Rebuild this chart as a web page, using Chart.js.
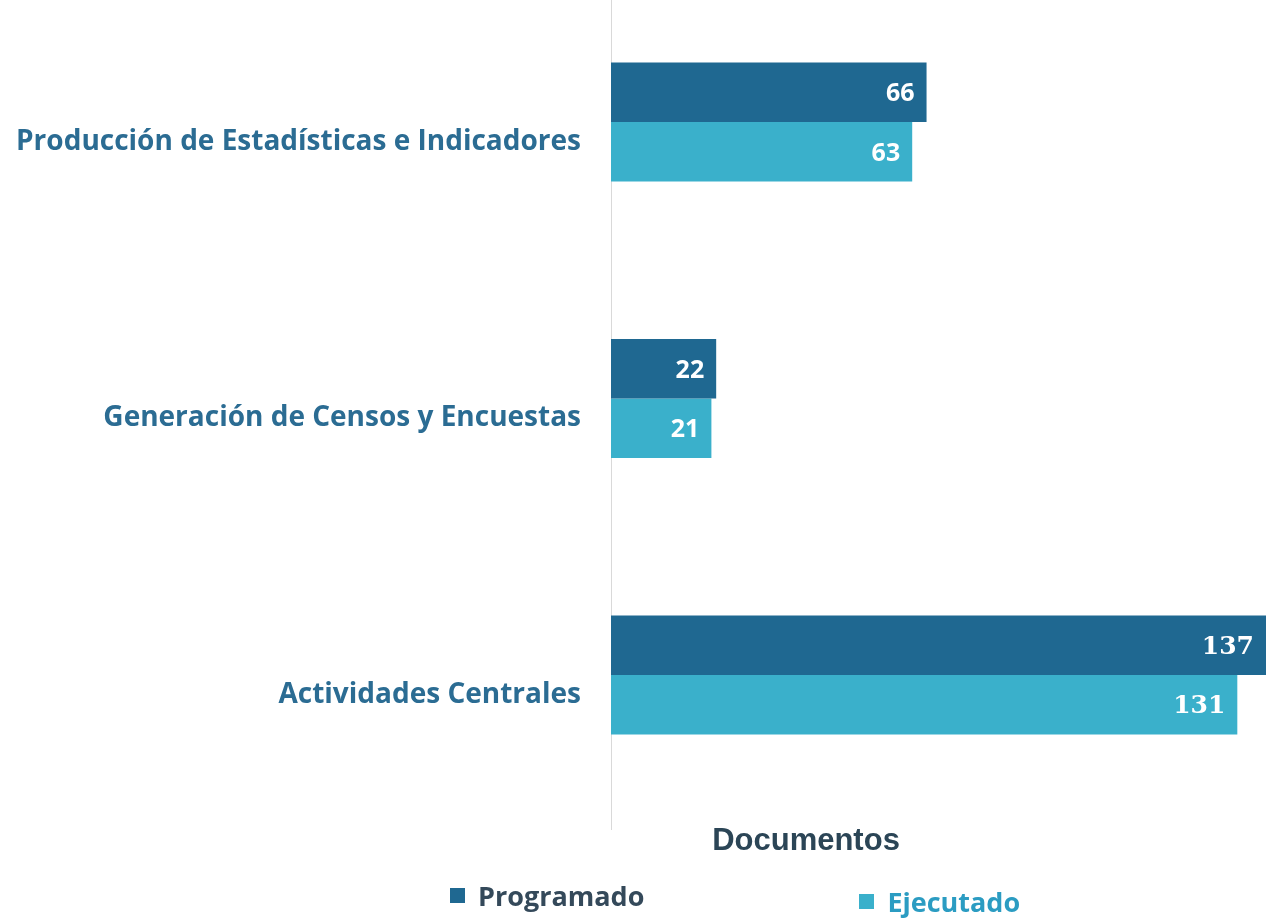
<!DOCTYPE html>
<html>
<head>
<meta charset="utf-8">
<script src="https://cdn.jsdelivr.net/npm/chart.js@4.4.1/dist/chart.umd.min.js"></script>
<style>
  body { margin: 0; background: #ffffff; }
  #caja { position: relative; width: 1266px; height: 919px; }
  #titulo { position: absolute; left: 606px; width: 400px; top: 822px; text-align: center; font-family: "Liberation Sans", sans-serif; font-weight: bold; font-size: 31px; color: #2b4556; }
  #leyenda { position: absolute; left: 450px; top: 870px; display: flex; gap: 215px; font-family: "Open Sans", sans-serif; font-weight: bold; font-size: 27px; }
  #leyenda span.item { display: flex; align-items: center; }
  #leyenda span.cuadro { display: inline-block; width: 15px; height: 15px; margin-right: 13px; }
</style>
</head>
<body>
<div id="caja">
  <canvas id="grafico" width="1266" height="919"></canvas>
  <div id="titulo">Documentos</div>
  <div id="leyenda"></div>
</div>
<script>
// categorias y valores
const categorias = ['Producción de Estadísticas e Indicadores', 'Generación de Censos y Encuestas', 'Actividades Centrales'];
const programado = [66, 22, 137];
const ejecutado = [63, 21, 131];
const colorProg = '#1f6891';
const colorEjec = '#3ab0cb';

//etiquetas blancas dentro de cada barra
const etiquetas = {
    id: 'etiquetas',
    afterDatasetsDraw(chart) {
        const ctx = chart.ctx;
        chart.data.datasets.forEach((ds, i) => {
            chart.getDatasetMeta(i).data.forEach((bar, j) => {
                ctx.save();
                ctx.fillStyle = '#ffffff';
                ctx.textAlign = 'right';
                ctx.textBaseline = 'middle';
                /*la ultima categoria parece con letra serif en el original*/
                ctx.font = j === 2 ? 'bold 25px "DejaVu Serif"' : 'bold 25px "Open Sans"';
                let x = Math.min(bar.x, chart.chartArea.right) - 12;
                ctx.fillText(ds.data[j], x, bar.y + 2);
                ctx.restore();
            });
        });
    }
};

//linea del eje vertical, mas larga que el area del grafico
const lineaEje = {
    id: 'lineaEje',
    beforeDatasetsDraw(chart) {
        const ctx = chart.ctx;
        const x0 = chart.scales.x.getPixelForValue(0);
        ctx.save();
        ctx.strokeStyle = '#d9d9d9';
        ctx.lineWidth = 1;
        ctx.beginPath();
        ctx.moveTo(x0 + 0.5, 0);
        ctx.lineTo(x0 + 0.5, 830);
        ctx.stroke();
        ctx.restore();
    }
};

const context = document.getElementById('grafico').getContext('2d');
let conData = {
    labels: categorias,
    datasets: [{
        label: 'Programado',
        data: programado,
        backgroundColor: colorProg,
        legendColor: '#34495a'
    }, {
        label: 'Ejecutado',
        data: ejecutado,
        backgroundColor: colorEjec,
        legendColor: '#2b9cc2'
    }]
};
let options = {
    indexAxis: 'y',
    responsive: false,
    animation: false,
    categoryPercentage: 0.43,
    barPercentage: 1,
    datasets: {
        bar: { clip: false }
    },
    layout: {
        padding: { top: 122, left: 0, right: 0, bottom: 244 }
    },
    scales: {
        x: {
            display: false,
            min: 0,
            max: 137
        },
        y: {
            offset: false,
            grid: { display: false, drawTicks: false },
            border: { display: false },
            ticks: {
                padding: 30,
                labelOffset: 20,
                color: '#2b6c93',
                font: { family: 'Open Sans', weight: 'bold', size: 28 }
            },
            afterFit: function(scale) {
                //ancho fijo para que el eje quede donde en el original
                scale.width = 611;
            }
        }
    },
    plugins: {
        legend: { display: false },
        tooltip: { enabled: false }
    }
};
let grafico = new Chart(context, {
    type: 'bar',
    data: conData,
    options: options,
    plugins: [lineaEje, etiquetas]
});

//leyenda en html
const leyenda = document.getElementById('leyenda');
conData.datasets.forEach((ds, i) => {
    let item = document.createElement('span');
    item.className = 'item';
    if (i === 1) item.style.marginTop = '13px';
    let cuadro = document.createElement('span');
    cuadro.className = 'cuadro';
    cuadro.style.background = ds.backgroundColor;
    let texto = document.createElement('span');
    texto.textContent = ds.label;
    texto.style.color = ds.legendColor;
    item.appendChild(cuadro);
    item.appendChild(texto);
    leyenda.appendChild(item);
});
</script>
</body>
</html>
